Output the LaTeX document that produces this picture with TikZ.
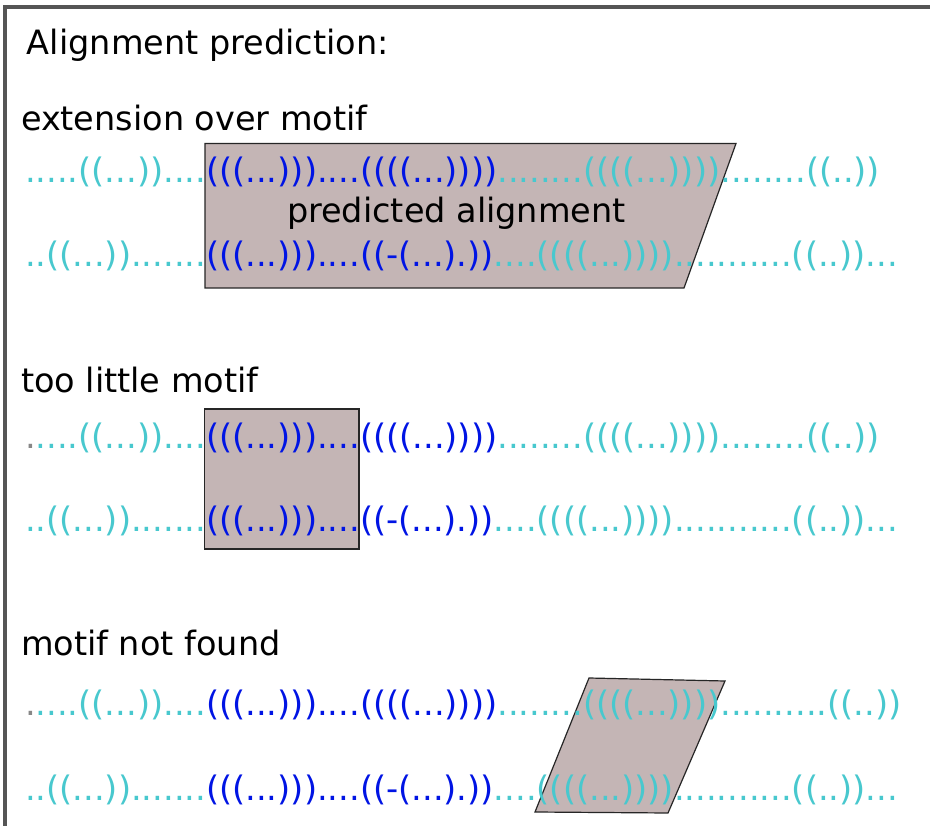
\documentclass[tikz,border=0pt]{standalone}
\usepackage{fontspec}
\setmainfont{DejaVu Sans}
\definecolor{seqcyan}{RGB}{72,200,206}
\definecolor{seqblue}{RGB}{0,20,228}
\definecolor{seqgray}{RGB}{135,135,135}
\definecolor{boxfill}{RGB}{196,181,181}
\definecolor{framegray}{RGB}{85,85,85}
\newcommand{\cy}[1]{{\color{seqcyan}#1}}
\newcommand{\bl}[1]{{\color{seqblue}#1}}
\newcommand{\gy}[1]{{\color{seqgray}#1}}
\begin{document}
\begin{tikzpicture}[x=1pt,y=-1pt,
  txt/.style={anchor=base west, inner sep=0pt, outer sep=0pt,
    font=\fontsize{33.5}{40}\selectfont},
  seqline/.style={txt, font=\fontsize{33.7}{40}\selectfont},
  alignbox/.style={fill=boxfill, draw=black!85, line width=1.2pt, line join=miter}]
  \useasboundingbox (0,0) rectangle (930,826);
  \fill[white] (0,0) rectangle (930,826);

  % outer frame (only left and top edges fall inside the page)
  \draw[framegray, line width=3.8pt] (5,840) -- (5,7) -- (940,7);

  % predicted alignment regions
  \filldraw[alignbox] (205,143.5) -- (736,143.5) -- (684,288) -- (205,288) -- cycle;
  \filldraw[alignbox] (204.5,409) rectangle (359,549);
  \filldraw[alignbox] (589,678) -- (725,681) -- (668,813) -- (535,812) -- cycle;

  % headings
  \node[txt] (title) at (27,55) {Alignment prediction:};
  \node[txt] (h1) at (21,131) {extension over motif};
  \node[txt] (h2) at (21,393) {too little motif};
  \node[txt] (h3) at (21,655) {motif not found};
  \node[txt] (pred) at (287,223) {predicted alignment};

  % section 1
  \node[seqline] (s1a) at (25,183)
    {\cy{.....((...))....}\bl{(((...)))....((((...))))}\cy{........((((...))))........((..))}};
  \node[seqline] (s1b) at (25,267)
    {\cy{..((...)).......}\bl{(((...)))....((-(...).))}\cy{....((((...))))...........((..))...}};

  % section 2
  \node[seqline] (s2a) at (25,449)
    {\gy{.}\cy{....((...))....}\bl{(((...)))....((((...))))}\cy{........((((...))))........((..))}};
  \node[seqline] (s2b) at (25,531)
    {\cy{..((...)).......}\bl{(((...)))....((-(...).))}\cy{....((((...))))...........((..))...}};

  % section 3
  \node[seqline] (s3a) at (25,715)
    {\gy{.}\cy{....((...))....}\bl{(((...)))....((((...))))}\cy{........((((...))))..........((..))}};
  \node[seqline] (s3b) at (25,800)
    {\cy{..((...)).......}\bl{(((...)))....((-(...).))}\cy{....((((...))))...........((..))...}};
\end{tikzpicture}
\end{document}
